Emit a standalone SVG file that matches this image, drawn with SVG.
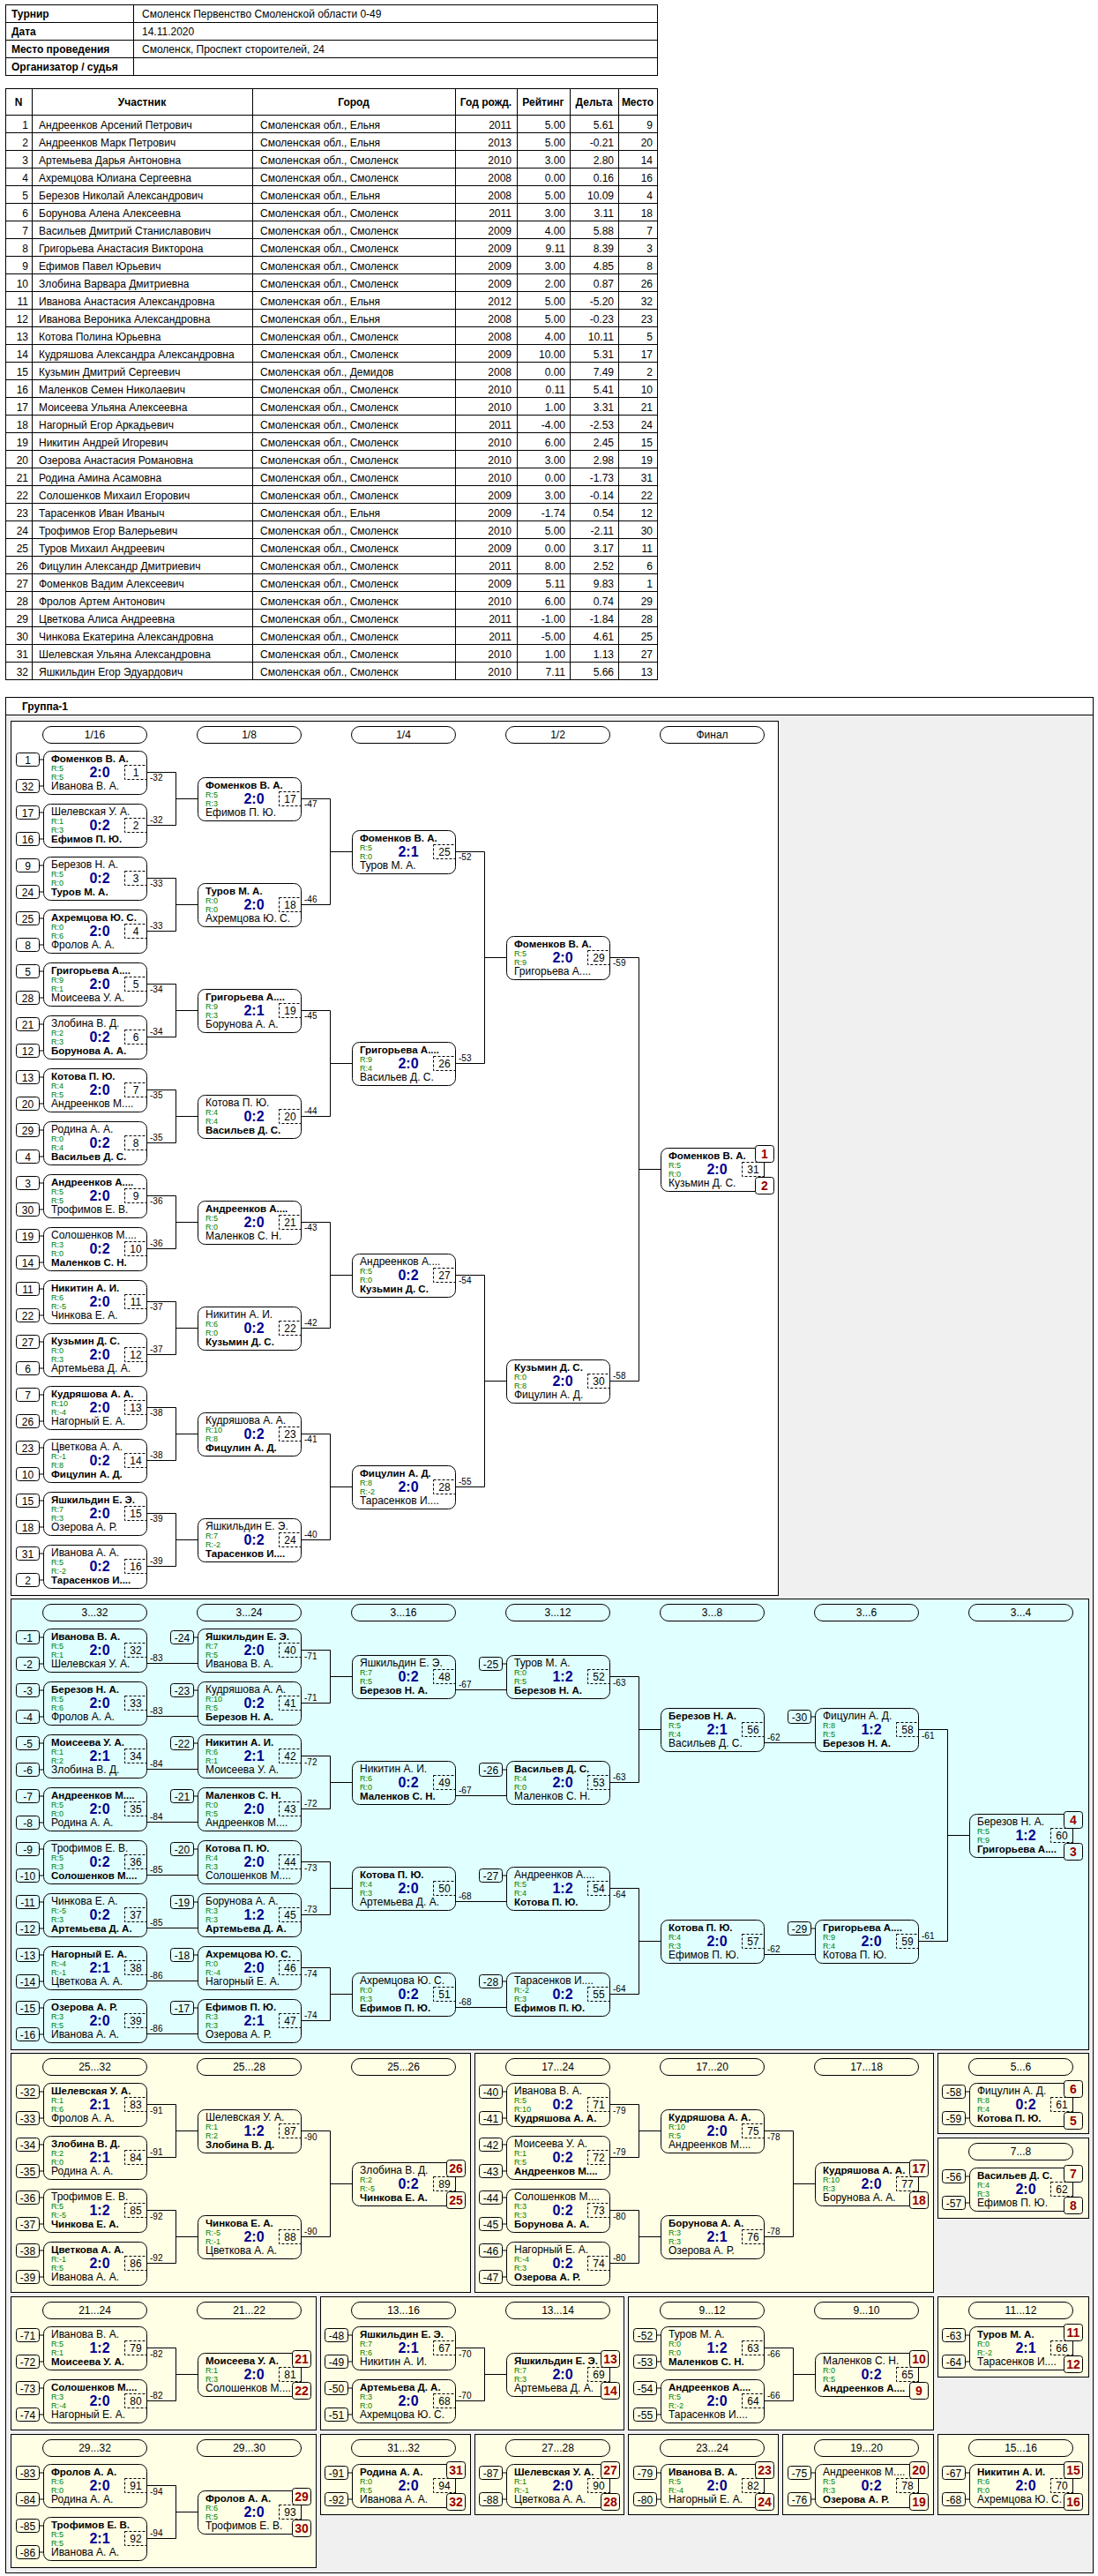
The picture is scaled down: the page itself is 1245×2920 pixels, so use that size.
<svg xmlns="http://www.w3.org/2000/svg" width="1245" height="2920" viewBox="0 0 1245 2920">
<style>
text{font-family:"Liberation Sans",Arial,Helvetica,sans-serif;font-size:12px;fill:#000;stroke:none}
.h{font-weight:bold}
.w{font-weight:bold;font-size:11.5px}
.r{font-size:9px;fill:#008000}
.s{font-size:16px;font-weight:bold;fill:#000090;text-anchor:middle}
.c{text-anchor:middle}
.e{text-anchor:end}
.l{font-size:10px}
.p{font-size:14px;font-weight:bold;fill:#990000;text-anchor:middle}
.ln{fill:none;stroke:#000;stroke-width:1}
.fr{stroke:#000;stroke-width:1}
.pl{fill:none;stroke:#000;stroke-width:1}
</style>
<defs>
<g id="mb"><rect x=".5" y=".5" width="117" height="49" rx="8" fill="none" stroke="#000"/><rect x="92.5" y="16.5" width="25" height="16" fill="none" stroke="#000" stroke-dasharray="3 2"/></g>
<g id="sd"><rect x=".5" y=".5" width="26" height="15" rx="3" fill="none" stroke="#000"/><path d="M26.5 8H31" fill="none" stroke="#000"/></g>
<rect id="pb" x=".5" y=".5" width="21" height="19" rx="3" stroke="#000"/>
</defs>
<rect width="1245" height="2920" fill="#fff"/>

<g id="info">
<rect x="6.5" y="5.5" width="739" height="80" fill="none" stroke="#000"/>
<path d="M6 25.5H746M6 45.5H746M6 65.5H746M151.5 5V86" fill="none" stroke="#000"/>
<text class="h"><tspan x="13" y="20">Турнир</tspan><tspan x="13" y="40">Дата</tspan><tspan x="13" y="60">Место проведения</tspan><tspan x="13" y="80">Организатор / судья</tspan></text>
<text><tspan x="161" y="20">Смоленск Первенство Смоленской области 0-49</tspan><tspan x="161" y="40">14.11.2020</tspan><tspan x="161" y="60">Смоленск, Проспект стороителей, 24</tspan></text>
</g>

<g id="participants">
<rect x="6.5" y="100.5" width="739" height="670" fill="none" stroke="#000"/>
<path d="M6 130.5H746M6 150.5H746M6 170.5H746M6 190.5H746M6 210.5H746M6 230.5H746M6 250.5H746M6 270.5H746M6 290.5H746M6 310.5H746M6 330.5H746M6 350.5H746M6 370.5H746M6 390.5H746M6 410.5H746M6 430.5H746M6 450.5H746M6 470.5H746M6 490.5H746M6 510.5H746M6 530.5H746M6 550.5H746M6 570.5H746M6 590.5H746M6 610.5H746M6 630.5H746M6 650.5H746M6 670.5H746M6 690.5H746M6 710.5H746M6 730.5H746M6 750.5H746M36.5 100V771M286.5 100V771M516.5 100V771M586.5 100V771M646.5 100V771M701.5 100V771" fill="none" stroke="#000"/>
<text class="h c"><tspan x="21" y="120">N</tspan><tspan x="161" y="120">Участник</tspan><tspan x="401" y="120">Город</tspan><tspan x="551" y="120">Год рожд.</tspan><tspan x="616" y="120">Рейтинг</tspan><tspan x="673.5" y="120">Дельта</tspan><tspan x="723" y="120">Место</tspan></text>
<text class="e"><tspan x="32" y="146">1</tspan><tspan x="32" y="166">2</tspan><tspan x="32" y="186">3</tspan><tspan x="32" y="206">4</tspan><tspan x="32" y="226">5</tspan><tspan x="32" y="246">6</tspan><tspan x="32" y="266">7</tspan><tspan x="32" y="286">8</tspan><tspan x="32" y="306">9</tspan><tspan x="32" y="326">10</tspan><tspan x="32" y="346">11</tspan><tspan x="32" y="366">12</tspan><tspan x="32" y="386">13</tspan><tspan x="32" y="406">14</tspan><tspan x="32" y="426">15</tspan><tspan x="32" y="446">16</tspan><tspan x="32" y="466">17</tspan><tspan x="32" y="486">18</tspan><tspan x="32" y="506">19</tspan><tspan x="32" y="526">20</tspan><tspan x="32" y="546">21</tspan><tspan x="32" y="566">22</tspan><tspan x="32" y="586">23</tspan><tspan x="32" y="606">24</tspan><tspan x="32" y="626">25</tspan><tspan x="32" y="646">26</tspan><tspan x="32" y="666">27</tspan><tspan x="32" y="686">28</tspan><tspan x="32" y="706">29</tspan><tspan x="32" y="726">30</tspan><tspan x="32" y="746">31</tspan><tspan x="32" y="766">32</tspan></text>
<text><tspan x="44" y="146">Андреенков Арсений Петрович</tspan><tspan x="44" y="166">Андреенков Марк Петрович</tspan><tspan x="44" y="186">Артемьева Дарья Антоновна</tspan><tspan x="44" y="206">Ахремцова Юлиана Сергеевна</tspan><tspan x="44" y="226">Березов Николай Александрович</tspan><tspan x="44" y="246">Борунова Алена Алексеевна</tspan><tspan x="44" y="266">Васильев Дмитрий Станиславович</tspan><tspan x="44" y="286">Григорьева Анастасия Викторона</tspan><tspan x="44" y="306">Ефимов Павел Юрьевич</tspan><tspan x="44" y="326">Злобина Варвара Дмитриевна</tspan><tspan x="44" y="346">Иванова Анастасия Александровна</tspan><tspan x="44" y="366">Иванова Вероника Александровна</tspan><tspan x="44" y="386">Котова Полина Юрьевна</tspan><tspan x="44" y="406">Кудряшова Александра Александровна</tspan><tspan x="44" y="426">Кузьмин Дмитрий Сергеевич</tspan><tspan x="44" y="446">Маленков Семен Николаевич</tspan><tspan x="44" y="466">Моисеева Ульяна Алексеевна</tspan><tspan x="44" y="486">Нагорный Егор Аркадьевич</tspan><tspan x="44" y="506">Никитин Андрей Игоревич</tspan><tspan x="44" y="526">Озерова Анастасия Романовна</tspan><tspan x="44" y="546">Родина Амина Асамовна</tspan><tspan x="44" y="566">Солошенков Михаил Егорович</tspan><tspan x="44" y="586">Тарасенков Иван Иваныч</tspan><tspan x="44" y="606">Трофимов Егор Валерьевич</tspan><tspan x="44" y="626">Туров Михаил Андреевич</tspan><tspan x="44" y="646">Фицулин Александр Дмитриевич</tspan><tspan x="44" y="666">Фоменков Вадим Алексеевич</tspan><tspan x="44" y="686">Фролов Артем Антонович</tspan><tspan x="44" y="706">Цветкова Алиса Андреевна</tspan><tspan x="44" y="726">Чинкова Екатерина Александровна</tspan><tspan x="44" y="746">Шелевская Ульяна Александровна</tspan><tspan x="44" y="766">Яшкильдин Егор Эдуардович</tspan></text>
<text><tspan x="295" y="146">Смоленская обл., Ельня</tspan><tspan x="295" y="166">Смоленская обл., Ельня</tspan><tspan x="295" y="186">Смоленская обл., Смоленск</tspan><tspan x="295" y="206">Смоленская обл., Смоленск</tspan><tspan x="295" y="226">Смоленская обл., Ельня</tspan><tspan x="295" y="246">Смоленская обл., Смоленск</tspan><tspan x="295" y="266">Смоленская обл., Смоленск</tspan><tspan x="295" y="286">Смоленская обл., Смоленск</tspan><tspan x="295" y="306">Смоленская обл., Смоленск</tspan><tspan x="295" y="326">Смоленская обл., Смоленск</tspan><tspan x="295" y="346">Смоленская обл., Ельня</tspan><tspan x="295" y="366">Смоленская обл., Ельня</tspan><tspan x="295" y="386">Смоленская обл., Смоленск</tspan><tspan x="295" y="406">Смоленская обл., Смоленск</tspan><tspan x="295" y="426">Смоленская обл., Демидов</tspan><tspan x="295" y="446">Смоленская обл., Смоленск</tspan><tspan x="295" y="466">Смоленская обл., Смоленск</tspan><tspan x="295" y="486">Смоленская обл., Смоленск</tspan><tspan x="295" y="506">Смоленская обл., Смоленск</tspan><tspan x="295" y="526">Смоленская обл., Смоленск</tspan><tspan x="295" y="546">Смоленская обл., Смоленск</tspan><tspan x="295" y="566">Смоленская обл., Смоленск</tspan><tspan x="295" y="586">Смоленская обл., Ельня</tspan><tspan x="295" y="606">Смоленская обл., Смоленск</tspan><tspan x="295" y="626">Смоленская обл., Смоленск</tspan><tspan x="295" y="646">Смоленская обл., Смоленск</tspan><tspan x="295" y="666">Смоленская обл., Смоленск</tspan><tspan x="295" y="686">Смоленская обл., Смоленск</tspan><tspan x="295" y="706">Смоленская обл., Смоленск</tspan><tspan x="295" y="726">Смоленская обл., Смоленск</tspan><tspan x="295" y="746">Смоленская обл., Смоленск</tspan><tspan x="295" y="766">Смоленская обл., Смоленск</tspan></text>
<text class="e"><tspan x="580" y="146">2011</tspan><tspan x="580" y="166">2013</tspan><tspan x="580" y="186">2010</tspan><tspan x="580" y="206">2008</tspan><tspan x="580" y="226">2008</tspan><tspan x="580" y="246">2011</tspan><tspan x="580" y="266">2009</tspan><tspan x="580" y="286">2009</tspan><tspan x="580" y="306">2009</tspan><tspan x="580" y="326">2009</tspan><tspan x="580" y="346">2012</tspan><tspan x="580" y="366">2008</tspan><tspan x="580" y="386">2008</tspan><tspan x="580" y="406">2009</tspan><tspan x="580" y="426">2008</tspan><tspan x="580" y="446">2010</tspan><tspan x="580" y="466">2010</tspan><tspan x="580" y="486">2011</tspan><tspan x="580" y="506">2010</tspan><tspan x="580" y="526">2010</tspan><tspan x="580" y="546">2010</tspan><tspan x="580" y="566">2009</tspan><tspan x="580" y="586">2009</tspan><tspan x="580" y="606">2010</tspan><tspan x="580" y="626">2009</tspan><tspan x="580" y="646">2011</tspan><tspan x="580" y="666">2009</tspan><tspan x="580" y="686">2010</tspan><tspan x="580" y="706">2011</tspan><tspan x="580" y="726">2011</tspan><tspan x="580" y="746">2010</tspan><tspan x="580" y="766">2010</tspan></text>
<text class="e"><tspan x="641" y="146">5.00</tspan><tspan x="641" y="166">5.00</tspan><tspan x="641" y="186">3.00</tspan><tspan x="641" y="206">0.00</tspan><tspan x="641" y="226">5.00</tspan><tspan x="641" y="246">3.00</tspan><tspan x="641" y="266">4.00</tspan><tspan x="641" y="286">9.11</tspan><tspan x="641" y="306">3.00</tspan><tspan x="641" y="326">2.00</tspan><tspan x="641" y="346">5.00</tspan><tspan x="641" y="366">5.00</tspan><tspan x="641" y="386">4.00</tspan><tspan x="641" y="406">10.00</tspan><tspan x="641" y="426">0.00</tspan><tspan x="641" y="446">0.11</tspan><tspan x="641" y="466">1.00</tspan><tspan x="641" y="486">-4.00</tspan><tspan x="641" y="506">6.00</tspan><tspan x="641" y="526">3.00</tspan><tspan x="641" y="546">0.00</tspan><tspan x="641" y="566">3.00</tspan><tspan x="641" y="586">-1.74</tspan><tspan x="641" y="606">5.00</tspan><tspan x="641" y="626">0.00</tspan><tspan x="641" y="646">8.00</tspan><tspan x="641" y="666">5.11</tspan><tspan x="641" y="686">6.00</tspan><tspan x="641" y="706">-1.00</tspan><tspan x="641" y="726">-5.00</tspan><tspan x="641" y="746">1.00</tspan><tspan x="641" y="766">7.11</tspan></text>
<text class="e"><tspan x="696" y="146">5.61</tspan><tspan x="696" y="166">-0.21</tspan><tspan x="696" y="186">2.80</tspan><tspan x="696" y="206">0.16</tspan><tspan x="696" y="226">10.09</tspan><tspan x="696" y="246">3.11</tspan><tspan x="696" y="266">5.88</tspan><tspan x="696" y="286">8.39</tspan><tspan x="696" y="306">4.85</tspan><tspan x="696" y="326">0.87</tspan><tspan x="696" y="346">-5.20</tspan><tspan x="696" y="366">-0.23</tspan><tspan x="696" y="386">10.11</tspan><tspan x="696" y="406">5.31</tspan><tspan x="696" y="426">7.49</tspan><tspan x="696" y="446">5.41</tspan><tspan x="696" y="466">3.31</tspan><tspan x="696" y="486">-2.53</tspan><tspan x="696" y="506">2.45</tspan><tspan x="696" y="526">2.98</tspan><tspan x="696" y="546">-1.73</tspan><tspan x="696" y="566">-0.14</tspan><tspan x="696" y="586">0.54</tspan><tspan x="696" y="606">-2.11</tspan><tspan x="696" y="626">3.17</tspan><tspan x="696" y="646">2.52</tspan><tspan x="696" y="666">9.83</tspan><tspan x="696" y="686">0.74</tspan><tspan x="696" y="706">-1.84</tspan><tspan x="696" y="726">4.61</tspan><tspan x="696" y="746">1.13</tspan><tspan x="696" y="766">5.66</tspan></text>
<text class="e"><tspan x="740" y="146">9</tspan><tspan x="740" y="166">20</tspan><tspan x="740" y="186">14</tspan><tspan x="740" y="206">16</tspan><tspan x="740" y="226">4</tspan><tspan x="740" y="246">18</tspan><tspan x="740" y="266">7</tspan><tspan x="740" y="286">3</tspan><tspan x="740" y="306">8</tspan><tspan x="740" y="326">26</tspan><tspan x="740" y="346">32</tspan><tspan x="740" y="366">23</tspan><tspan x="740" y="386">5</tspan><tspan x="740" y="406">17</tspan><tspan x="740" y="426">2</tspan><tspan x="740" y="446">10</tspan><tspan x="740" y="466">21</tspan><tspan x="740" y="486">24</tspan><tspan x="740" y="506">15</tspan><tspan x="740" y="526">19</tspan><tspan x="740" y="546">31</tspan><tspan x="740" y="566">22</tspan><tspan x="740" y="586">12</tspan><tspan x="740" y="606">30</tspan><tspan x="740" y="626">11</tspan><tspan x="740" y="646">6</tspan><tspan x="740" y="666">1</tspan><tspan x="740" y="686">29</tspan><tspan x="740" y="706">28</tspan><tspan x="740" y="726">25</tspan><tspan x="740" y="746">27</tspan><tspan x="740" y="766">13</tspan></text>
</g>

<g id="group1">
<rect x="6.5" y="790.5" width="1233" height="2126" fill="#f0f0f0" stroke="#000"/>
<rect x="7" y="791" width="1232" height="19" fill="#fff"/>
<path d="M6 810.5H1240" fill="none" stroke="#000"/>
<text class="h" x="25" y="805">Группа-1</text>
</g>

<g id="sec-main" fill="#fff">
<rect class="fr" x="12.5" y="817.5" width="870" height="991"/>
<rect class="pl" x="48.5" y="823.5" width="118" height="19" rx="9.5"/><text class="c" x="107.5" y="837">1/16</text>
<rect class="pl" x="223.5" y="823.5" width="118" height="19" rx="9.5"/><text class="c" x="282.5" y="837">1/8</text>
<rect class="pl" x="398.5" y="823.5" width="118" height="19" rx="9.5"/><text class="c" x="457.5" y="837">1/4</text>
<rect class="pl" x="573.5" y="823.5" width="118" height="19" rx="9.5"/><text class="c" x="632.5" y="837">1/2</text>
<rect class="pl" x="748.5" y="823.5" width="118" height="19" rx="9.5"/><text class="c" x="807.5" y="837">Финал</text>

<g id="m1" transform="translate(49 851)"><use href="#mb"/><use href="#sd" x="-31" y="2"/><use href="#sd" x="-31" y="32"/><text class="c" x="-17.5" y="15">1</text><text class="c" x="-17.5" y="45">32</text><text class="w" x="9" y="13">Фоменков В. А.</text><text class="r" x="9" y="23">R:5</text><text class="r" x="9" y="33">R:5</text><text class="s" x="64" y="30">2:0</text><text x="9" y="44">Иванова В. А.</text><text class="c" x="105" y="29">1</text></g>
<g id="m2" transform="translate(49 911)"><use href="#mb"/><use href="#sd" x="-31" y="2"/><use href="#sd" x="-31" y="32"/><text class="c" x="-17.5" y="15">17</text><text class="c" x="-17.5" y="45">16</text><text x="9" y="13">Шелевская У. А.</text><text class="r" x="9" y="23">R:1</text><text class="r" x="9" y="33">R:3</text><text class="s" x="64" y="30">0:2</text><text class="w" x="9" y="44">Ефимов П. Ю.</text><text class="c" x="105" y="29">2</text></g>
<g id="m3" transform="translate(49 971)"><use href="#mb"/><use href="#sd" x="-31" y="2"/><use href="#sd" x="-31" y="32"/><text class="c" x="-17.5" y="15">9</text><text class="c" x="-17.5" y="45">24</text><text x="9" y="13">Березов Н. А.</text><text class="r" x="9" y="23">R:5</text><text class="r" x="9" y="33">R:0</text><text class="s" x="64" y="30">0:2</text><text class="w" x="9" y="44">Туров М. А.</text><text class="c" x="105" y="29">3</text></g>
<g id="m4" transform="translate(49 1031)"><use href="#mb"/><use href="#sd" x="-31" y="2"/><use href="#sd" x="-31" y="32"/><text class="c" x="-17.5" y="15">25</text><text class="c" x="-17.5" y="45">8</text><text class="w" x="9" y="13">Ахремцова Ю. С.</text><text class="r" x="9" y="23">R:0</text><text class="r" x="9" y="33">R:6</text><text class="s" x="64" y="30">2:0</text><text x="9" y="44">Фролов А. А.</text><text class="c" x="105" y="29">4</text></g>
<g id="m5" transform="translate(49 1091)"><use href="#mb"/><use href="#sd" x="-31" y="2"/><use href="#sd" x="-31" y="32"/><text class="c" x="-17.5" y="15">5</text><text class="c" x="-17.5" y="45">28</text><text class="w" x="9" y="13">Григорьева А....</text><text class="r" x="9" y="23">R:9</text><text class="r" x="9" y="33">R:1</text><text class="s" x="64" y="30">2:0</text><text x="9" y="44">Моисеева У. А.</text><text class="c" x="105" y="29">5</text></g>
<g id="m6" transform="translate(49 1151)"><use href="#mb"/><use href="#sd" x="-31" y="2"/><use href="#sd" x="-31" y="32"/><text class="c" x="-17.5" y="15">21</text><text class="c" x="-17.5" y="45">12</text><text x="9" y="13">Злобина В. Д.</text><text class="r" x="9" y="23">R:2</text><text class="r" x="9" y="33">R:3</text><text class="s" x="64" y="30">0:2</text><text class="w" x="9" y="44">Борунова А. А.</text><text class="c" x="105" y="29">6</text></g>
<g id="m7" transform="translate(49 1211)"><use href="#mb"/><use href="#sd" x="-31" y="2"/><use href="#sd" x="-31" y="32"/><text class="c" x="-17.5" y="15">13</text><text class="c" x="-17.5" y="45">20</text><text class="w" x="9" y="13">Котова П. Ю.</text><text class="r" x="9" y="23">R:4</text><text class="r" x="9" y="33">R:5</text><text class="s" x="64" y="30">2:0</text><text x="9" y="44">Андреенков М....</text><text class="c" x="105" y="29">7</text></g>
<g id="m8" transform="translate(49 1271)"><use href="#mb"/><use href="#sd" x="-31" y="2"/><use href="#sd" x="-31" y="32"/><text class="c" x="-17.5" y="15">29</text><text class="c" x="-17.5" y="45">4</text><text x="9" y="13">Родина А. А.</text><text class="r" x="9" y="23">R:0</text><text class="r" x="9" y="33">R:4</text><text class="s" x="64" y="30">0:2</text><text class="w" x="9" y="44">Васильев Д. С.</text><text class="c" x="105" y="29">8</text></g>
<g id="m9" transform="translate(49 1331)"><use href="#mb"/><use href="#sd" x="-31" y="2"/><use href="#sd" x="-31" y="32"/><text class="c" x="-17.5" y="15">3</text><text class="c" x="-17.5" y="45">30</text><text class="w" x="9" y="13">Андреенков А....</text><text class="r" x="9" y="23">R:5</text><text class="r" x="9" y="33">R:5</text><text class="s" x="64" y="30">2:0</text><text x="9" y="44">Трофимов Е. В.</text><text class="c" x="105" y="29">9</text></g>
<g id="m10" transform="translate(49 1391)"><use href="#mb"/><use href="#sd" x="-31" y="2"/><use href="#sd" x="-31" y="32"/><text class="c" x="-17.5" y="15">19</text><text class="c" x="-17.5" y="45">14</text><text x="9" y="13">Солошенков М....</text><text class="r" x="9" y="23">R:3</text><text class="r" x="9" y="33">R:0</text><text class="s" x="64" y="30">0:2</text><text class="w" x="9" y="44">Маленков С. Н.</text><text class="c" x="105" y="29">10</text></g>
<g id="m11" transform="translate(49 1451)"><use href="#mb"/><use href="#sd" x="-31" y="2"/><use href="#sd" x="-31" y="32"/><text class="c" x="-17.5" y="15">11</text><text class="c" x="-17.5" y="45">22</text><text class="w" x="9" y="13">Никитин А. И.</text><text class="r" x="9" y="23">R:6</text><text class="r" x="9" y="33">R:-5</text><text class="s" x="64" y="30">2:0</text><text x="9" y="44">Чинкова Е. А.</text><text class="c" x="105" y="29">11</text></g>
<g id="m12" transform="translate(49 1511)"><use href="#mb"/><use href="#sd" x="-31" y="2"/><use href="#sd" x="-31" y="32"/><text class="c" x="-17.5" y="15">27</text><text class="c" x="-17.5" y="45">6</text><text class="w" x="9" y="13">Кузьмин Д. С.</text><text class="r" x="9" y="23">R:0</text><text class="r" x="9" y="33">R:3</text><text class="s" x="64" y="30">2:0</text><text x="9" y="44">Артемьева Д. А.</text><text class="c" x="105" y="29">12</text></g>
<g id="m13" transform="translate(49 1571)"><use href="#mb"/><use href="#sd" x="-31" y="2"/><use href="#sd" x="-31" y="32"/><text class="c" x="-17.5" y="15">7</text><text class="c" x="-17.5" y="45">26</text><text class="w" x="9" y="13">Кудряшова А. А.</text><text class="r" x="9" y="23">R:10</text><text class="r" x="9" y="33">R:-4</text><text class="s" x="64" y="30">2:0</text><text x="9" y="44">Нагорный Е. А.</text><text class="c" x="105" y="29">13</text></g>
<g id="m14" transform="translate(49 1631)"><use href="#mb"/><use href="#sd" x="-31" y="2"/><use href="#sd" x="-31" y="32"/><text class="c" x="-17.5" y="15">23</text><text class="c" x="-17.5" y="45">10</text><text x="9" y="13">Цветкова А. А.</text><text class="r" x="9" y="23">R:-1</text><text class="r" x="9" y="33">R:8</text><text class="s" x="64" y="30">0:2</text><text class="w" x="9" y="44">Фицулин А. Д.</text><text class="c" x="105" y="29">14</text></g>
<g id="m15" transform="translate(49 1691)"><use href="#mb"/><use href="#sd" x="-31" y="2"/><use href="#sd" x="-31" y="32"/><text class="c" x="-17.5" y="15">15</text><text class="c" x="-17.5" y="45">18</text><text class="w" x="9" y="13">Яшкильдин Е. Э.</text><text class="r" x="9" y="23">R:7</text><text class="r" x="9" y="33">R:3</text><text class="s" x="64" y="30">2:0</text><text x="9" y="44">Озерова А. Р.</text><text class="c" x="105" y="29">15</text></g>
<g id="m16" transform="translate(49 1751)"><use href="#mb"/><use href="#sd" x="-31" y="2"/><use href="#sd" x="-31" y="32"/><text class="c" x="-17.5" y="15">31</text><text class="c" x="-17.5" y="45">2</text><text x="9" y="13">Иванова А. А.</text><text class="r" x="9" y="23">R:5</text><text class="r" x="9" y="33">R:-2</text><text class="s" x="64" y="30">0:2</text><text class="w" x="9" y="44">Тарасенков И....</text><text class="c" x="105" y="29">16</text></g>

<g id="m17" transform="translate(224 881)"><use href="#mb"/><text class="w" x="9" y="13">Фоменков В. А.</text><text class="r" x="9" y="23">R:5</text><text class="r" x="9" y="33">R:3</text><text class="s" x="64" y="30">2:0</text><text x="9" y="44">Ефимов П. Ю.</text><text class="c" x="105" y="29">17</text></g>
<g id="m18" transform="translate(224 1001)"><use href="#mb"/><text class="w" x="9" y="13">Туров М. А.</text><text class="r" x="9" y="23">R:0</text><text class="r" x="9" y="33">R:0</text><text class="s" x="64" y="30">2:0</text><text x="9" y="44">Ахремцова Ю. С.</text><text class="c" x="105" y="29">18</text></g>
<g id="m19" transform="translate(224 1121)"><use href="#mb"/><text class="w" x="9" y="13">Григорьева А....</text><text class="r" x="9" y="23">R:9</text><text class="r" x="9" y="33">R:3</text><text class="s" x="64" y="30">2:1</text><text x="9" y="44">Борунова А. А.</text><text class="c" x="105" y="29">19</text></g>
<g id="m20" transform="translate(224 1241)"><use href="#mb"/><text x="9" y="13">Котова П. Ю.</text><text class="r" x="9" y="23">R:4</text><text class="r" x="9" y="33">R:4</text><text class="s" x="64" y="30">0:2</text><text class="w" x="9" y="44">Васильев Д. С.</text><text class="c" x="105" y="29">20</text></g>
<g id="m21" transform="translate(224 1361)"><use href="#mb"/><text class="w" x="9" y="13">Андреенков А....</text><text class="r" x="9" y="23">R:5</text><text class="r" x="9" y="33">R:0</text><text class="s" x="64" y="30">2:0</text><text x="9" y="44">Маленков С. Н.</text><text class="c" x="105" y="29">21</text></g>
<g id="m22" transform="translate(224 1481)"><use href="#mb"/><text x="9" y="13">Никитин А. И.</text><text class="r" x="9" y="23">R:6</text><text class="r" x="9" y="33">R:0</text><text class="s" x="64" y="30">0:2</text><text class="w" x="9" y="44">Кузьмин Д. С.</text><text class="c" x="105" y="29">22</text></g>
<g id="m23" transform="translate(224 1601)"><use href="#mb"/><text x="9" y="13">Кудряшова А. А.</text><text class="r" x="9" y="23">R:10</text><text class="r" x="9" y="33">R:8</text><text class="s" x="64" y="30">0:2</text><text class="w" x="9" y="44">Фицулин А. Д.</text><text class="c" x="105" y="29">23</text></g>
<g id="m24" transform="translate(224 1721)"><use href="#mb"/><text x="9" y="13">Яшкильдин Е. Э.</text><text class="r" x="9" y="23">R:7</text><text class="r" x="9" y="33">R:-2</text><text class="s" x="64" y="30">0:2</text><text class="w" x="9" y="44">Тарасенков И....</text><text class="c" x="105" y="29">24</text></g>

<g id="m25" transform="translate(399 941)"><use href="#mb"/><text class="w" x="9" y="13">Фоменков В. А.</text><text class="r" x="9" y="23">R:5</text><text class="r" x="9" y="33">R:0</text><text class="s" x="64" y="30">2:1</text><text x="9" y="44">Туров М. А.</text><text class="c" x="105" y="29">25</text></g>
<g id="m26" transform="translate(399 1181)"><use href="#mb"/><text class="w" x="9" y="13">Григорьева А....</text><text class="r" x="9" y="23">R:9</text><text class="r" x="9" y="33">R:4</text><text class="s" x="64" y="30">2:0</text><text x="9" y="44">Васильев Д. С.</text><text class="c" x="105" y="29">26</text></g>
<g id="m27" transform="translate(399 1421)"><use href="#mb"/><text x="9" y="13">Андреенков А....</text><text class="r" x="9" y="23">R:5</text><text class="r" x="9" y="33">R:0</text><text class="s" x="64" y="30">0:2</text><text class="w" x="9" y="44">Кузьмин Д. С.</text><text class="c" x="105" y="29">27</text></g>
<g id="m28" transform="translate(399 1661)"><use href="#mb"/><text class="w" x="9" y="13">Фицулин А. Д.</text><text class="r" x="9" y="23">R:8</text><text class="r" x="9" y="33">R:-2</text><text class="s" x="64" y="30">2:0</text><text x="9" y="44">Тарасенков И....</text><text class="c" x="105" y="29">28</text></g>

<g id="m29" transform="translate(574 1061)"><use href="#mb"/><text class="w" x="9" y="13">Фоменков В. А.</text><text class="r" x="9" y="23">R:5</text><text class="r" x="9" y="33">R:9</text><text class="s" x="64" y="30">2:0</text><text x="9" y="44">Григорьева А....</text><text class="c" x="105" y="29">29</text></g>
<g id="m30" transform="translate(574 1541)"><use href="#mb"/><text class="w" x="9" y="13">Кузьмин Д. С.</text><text class="r" x="9" y="23">R:0</text><text class="r" x="9" y="33">R:8</text><text class="s" x="64" y="30">2:0</text><text x="9" y="44">Фицулин А. Д.</text><text class="c" x="105" y="29">30</text></g>

<g id="m31" transform="translate(749 1301)"><use href="#mb"/><text class="w" x="9" y="13">Фоменков В. А.</text><text class="r" x="9" y="23">R:5</text><text class="r" x="9" y="33">R:0</text><text class="s" x="64" y="30">2:0</text><text x="9" y="44">Кузьмин Д. С.</text><text class="c" x="105" y="29">31</text><use href="#pb" x="107" y="-3"/><use href="#pb" x="107" y="33"/><text class="p" x="118" y="12">1</text><text class="p" x="118" y="48">2</text></g>
</g>

<g id="sec-losers" fill="#e0ffff">
<rect class="fr" x="12.5" y="1812.5" width="1222" height="511"/>
<rect class="pl" x="48.5" y="1818.5" width="118" height="19" rx="9.5"/><text class="c" x="107.5" y="1832">3...32</text>
<rect class="pl" x="223.5" y="1818.5" width="118" height="19" rx="9.5"/><text class="c" x="282.5" y="1832">3...24</text>
<rect class="pl" x="398.5" y="1818.5" width="118" height="19" rx="9.5"/><text class="c" x="457.5" y="1832">3...16</text>
<rect class="pl" x="573.5" y="1818.5" width="118" height="19" rx="9.5"/><text class="c" x="632.5" y="1832">3...12</text>
<rect class="pl" x="748.5" y="1818.5" width="118" height="19" rx="9.5"/><text class="c" x="807.5" y="1832">3...8</text>
<rect class="pl" x="923.5" y="1818.5" width="118" height="19" rx="9.5"/><text class="c" x="982.5" y="1832">3...6</text>
<rect class="pl" x="1098.5" y="1818.5" width="118" height="19" rx="9.5"/><text class="c" x="1157.5" y="1832">3...4</text>

<g id="m32" transform="translate(49 1846)"><use href="#mb"/><use href="#sd" x="-31" y="2"/><use href="#sd" x="-31" y="32"/><text class="c" x="-17.5" y="15">-1</text><text class="c" x="-17.5" y="45">-2</text><text class="w" x="9" y="13">Иванова В. А.</text><text class="r" x="9" y="23">R:5</text><text class="r" x="9" y="33">R:1</text><text class="s" x="64" y="30">2:0</text><text x="9" y="44">Шелевская У. А.</text><text class="c" x="105" y="29">32</text></g>
<g id="m33" transform="translate(49 1906)"><use href="#mb"/><use href="#sd" x="-31" y="2"/><use href="#sd" x="-31" y="32"/><text class="c" x="-17.5" y="15">-3</text><text class="c" x="-17.5" y="45">-4</text><text class="w" x="9" y="13">Березов Н. А.</text><text class="r" x="9" y="23">R:5</text><text class="r" x="9" y="33">R:6</text><text class="s" x="64" y="30">2:0</text><text x="9" y="44">Фролов А. А.</text><text class="c" x="105" y="29">33</text></g>
<g id="m34" transform="translate(49 1966)"><use href="#mb"/><use href="#sd" x="-31" y="2"/><use href="#sd" x="-31" y="32"/><text class="c" x="-17.5" y="15">-5</text><text class="c" x="-17.5" y="45">-6</text><text class="w" x="9" y="13">Моисеева У. А.</text><text class="r" x="9" y="23">R:1</text><text class="r" x="9" y="33">R:2</text><text class="s" x="64" y="30">2:1</text><text x="9" y="44">Злобина В. Д.</text><text class="c" x="105" y="29">34</text></g>
<g id="m35" transform="translate(49 2026)"><use href="#mb"/><use href="#sd" x="-31" y="2"/><use href="#sd" x="-31" y="32"/><text class="c" x="-17.5" y="15">-7</text><text class="c" x="-17.5" y="45">-8</text><text class="w" x="9" y="13">Андреенков М....</text><text class="r" x="9" y="23">R:5</text><text class="r" x="9" y="33">R:0</text><text class="s" x="64" y="30">2:0</text><text x="9" y="44">Родина А. А.</text><text class="c" x="105" y="29">35</text></g>
<g id="m36" transform="translate(49 2086)"><use href="#mb"/><use href="#sd" x="-31" y="2"/><use href="#sd" x="-31" y="32"/><text class="c" x="-17.5" y="15">-9</text><text class="c" x="-17.5" y="45">-10</text><text x="9" y="13">Трофимов Е. В.</text><text class="r" x="9" y="23">R:5</text><text class="r" x="9" y="33">R:3</text><text class="s" x="64" y="30">0:2</text><text class="w" x="9" y="44">Солошенков М....</text><text class="c" x="105" y="29">36</text></g>
<g id="m37" transform="translate(49 2146)"><use href="#mb"/><use href="#sd" x="-31" y="2"/><use href="#sd" x="-31" y="32"/><text class="c" x="-17.5" y="15">-11</text><text class="c" x="-17.5" y="45">-12</text><text x="9" y="13">Чинкова Е. А.</text><text class="r" x="9" y="23">R:-5</text><text class="r" x="9" y="33">R:3</text><text class="s" x="64" y="30">0:2</text><text class="w" x="9" y="44">Артемьева Д. А.</text><text class="c" x="105" y="29">37</text></g>
<g id="m38" transform="translate(49 2206)"><use href="#mb"/><use href="#sd" x="-31" y="2"/><use href="#sd" x="-31" y="32"/><text class="c" x="-17.5" y="15">-13</text><text class="c" x="-17.5" y="45">-14</text><text class="w" x="9" y="13">Нагорный Е. А.</text><text class="r" x="9" y="23">R:-4</text><text class="r" x="9" y="33">R:-1</text><text class="s" x="64" y="30">2:1</text><text x="9" y="44">Цветкова А. А.</text><text class="c" x="105" y="29">38</text></g>
<g id="m39" transform="translate(49 2266)"><use href="#mb"/><use href="#sd" x="-31" y="2"/><use href="#sd" x="-31" y="32"/><text class="c" x="-17.5" y="15">-15</text><text class="c" x="-17.5" y="45">-16</text><text class="w" x="9" y="13">Озерова А. Р.</text><text class="r" x="9" y="23">R:3</text><text class="r" x="9" y="33">R:5</text><text class="s" x="64" y="30">2:0</text><text x="9" y="44">Иванова А. А.</text><text class="c" x="105" y="29">39</text></g>

<g id="m40" transform="translate(224 1846)"><use href="#mb"/><use href="#sd" x="-31" y="2"/><text class="c" x="-17.5" y="15">-24</text><text class="w" x="9" y="13">Яшкильдин Е. Э.</text><text class="r" x="9" y="23">R:7</text><text class="r" x="9" y="33">R:5</text><text class="s" x="64" y="30">2:0</text><text x="9" y="44">Иванова В. А.</text><text class="c" x="105" y="29">40</text></g>
<g id="m41" transform="translate(224 1906)"><use href="#mb"/><use href="#sd" x="-31" y="2"/><text class="c" x="-17.5" y="15">-23</text><text x="9" y="13">Кудряшова А. А.</text><text class="r" x="9" y="23">R:10</text><text class="r" x="9" y="33">R:5</text><text class="s" x="64" y="30">0:2</text><text class="w" x="9" y="44">Березов Н. А.</text><text class="c" x="105" y="29">41</text></g>
<g id="m42" transform="translate(224 1966)"><use href="#mb"/><use href="#sd" x="-31" y="2"/><text class="c" x="-17.5" y="15">-22</text><text class="w" x="9" y="13">Никитин А. И.</text><text class="r" x="9" y="23">R:6</text><text class="r" x="9" y="33">R:1</text><text class="s" x="64" y="30">2:1</text><text x="9" y="44">Моисеева У. А.</text><text class="c" x="105" y="29">42</text></g>
<g id="m43" transform="translate(224 2026)"><use href="#mb"/><use href="#sd" x="-31" y="2"/><text class="c" x="-17.5" y="15">-21</text><text class="w" x="9" y="13">Маленков С. Н.</text><text class="r" x="9" y="23">R:0</text><text class="r" x="9" y="33">R:5</text><text class="s" x="64" y="30">2:0</text><text x="9" y="44">Андреенков М....</text><text class="c" x="105" y="29">43</text></g>
<g id="m44" transform="translate(224 2086)"><use href="#mb"/><use href="#sd" x="-31" y="2"/><text class="c" x="-17.5" y="15">-20</text><text class="w" x="9" y="13">Котова П. Ю.</text><text class="r" x="9" y="23">R:4</text><text class="r" x="9" y="33">R:3</text><text class="s" x="64" y="30">2:0</text><text x="9" y="44">Солошенков М....</text><text class="c" x="105" y="29">44</text></g>
<g id="m45" transform="translate(224 2146)"><use href="#mb"/><use href="#sd" x="-31" y="2"/><text class="c" x="-17.5" y="15">-19</text><text x="9" y="13">Борунова А. А.</text><text class="r" x="9" y="23">R:3</text><text class="r" x="9" y="33">R:3</text><text class="s" x="64" y="30">1:2</text><text class="w" x="9" y="44">Артемьева Д. А.</text><text class="c" x="105" y="29">45</text></g>
<g id="m46" transform="translate(224 2206)"><use href="#mb"/><use href="#sd" x="-31" y="2"/><text class="c" x="-17.5" y="15">-18</text><text class="w" x="9" y="13">Ахремцова Ю. С.</text><text class="r" x="9" y="23">R:0</text><text class="r" x="9" y="33">R:-4</text><text class="s" x="64" y="30">2:0</text><text x="9" y="44">Нагорный Е. А.</text><text class="c" x="105" y="29">46</text></g>
<g id="m47" transform="translate(224 2266)"><use href="#mb"/><use href="#sd" x="-31" y="2"/><text class="c" x="-17.5" y="15">-17</text><text class="w" x="9" y="13">Ефимов П. Ю.</text><text class="r" x="9" y="23">R:3</text><text class="r" x="9" y="33">R:3</text><text class="s" x="64" y="30">2:1</text><text x="9" y="44">Озерова А. Р.</text><text class="c" x="105" y="29">47</text></g>

<g id="m48" transform="translate(399 1876)"><use href="#mb"/><text x="9" y="13">Яшкильдин Е. Э.</text><text class="r" x="9" y="23">R:7</text><text class="r" x="9" y="33">R:5</text><text class="s" x="64" y="30">0:2</text><text class="w" x="9" y="44">Березов Н. А.</text><text class="c" x="105" y="29">48</text></g>
<g id="m49" transform="translate(399 1996)"><use href="#mb"/><text x="9" y="13">Никитин А. И.</text><text class="r" x="9" y="23">R:6</text><text class="r" x="9" y="33">R:0</text><text class="s" x="64" y="30">0:2</text><text class="w" x="9" y="44">Маленков С. Н.</text><text class="c" x="105" y="29">49</text></g>
<g id="m50" transform="translate(399 2116)"><use href="#mb"/><text class="w" x="9" y="13">Котова П. Ю.</text><text class="r" x="9" y="23">R:4</text><text class="r" x="9" y="33">R:3</text><text class="s" x="64" y="30">2:0</text><text x="9" y="44">Артемьева Д. А.</text><text class="c" x="105" y="29">50</text></g>
<g id="m51" transform="translate(399 2236)"><use href="#mb"/><text x="9" y="13">Ахремцова Ю. С.</text><text class="r" x="9" y="23">R:0</text><text class="r" x="9" y="33">R:3</text><text class="s" x="64" y="30">0:2</text><text class="w" x="9" y="44">Ефимов П. Ю.</text><text class="c" x="105" y="29">51</text></g>

<g id="m52" transform="translate(574 1876)"><use href="#mb"/><use href="#sd" x="-31" y="2"/><text class="c" x="-17.5" y="15">-25</text><text x="9" y="13">Туров М. А.</text><text class="r" x="9" y="23">R:0</text><text class="r" x="9" y="33">R:5</text><text class="s" x="64" y="30">1:2</text><text class="w" x="9" y="44">Березов Н. А.</text><text class="c" x="105" y="29">52</text></g>
<g id="m53" transform="translate(574 1996)"><use href="#mb"/><use href="#sd" x="-31" y="2"/><text class="c" x="-17.5" y="15">-26</text><text class="w" x="9" y="13">Васильев Д. С.</text><text class="r" x="9" y="23">R:4</text><text class="r" x="9" y="33">R:0</text><text class="s" x="64" y="30">2:0</text><text x="9" y="44">Маленков С. Н.</text><text class="c" x="105" y="29">53</text></g>
<g id="m54" transform="translate(574 2116)"><use href="#mb"/><use href="#sd" x="-31" y="2"/><text class="c" x="-17.5" y="15">-27</text><text x="9" y="13">Андреенков А....</text><text class="r" x="9" y="23">R:5</text><text class="r" x="9" y="33">R:4</text><text class="s" x="64" y="30">1:2</text><text class="w" x="9" y="44">Котова П. Ю.</text><text class="c" x="105" y="29">54</text></g>
<g id="m55" transform="translate(574 2236)"><use href="#mb"/><use href="#sd" x="-31" y="2"/><text class="c" x="-17.5" y="15">-28</text><text x="9" y="13">Тарасенков И....</text><text class="r" x="9" y="23">R:-2</text><text class="r" x="9" y="33">R:3</text><text class="s" x="64" y="30">0:2</text><text class="w" x="9" y="44">Ефимов П. Ю.</text><text class="c" x="105" y="29">55</text></g>

<g id="m56" transform="translate(749 1936)"><use href="#mb"/><text class="w" x="9" y="13">Березов Н. А.</text><text class="r" x="9" y="23">R:5</text><text class="r" x="9" y="33">R:4</text><text class="s" x="64" y="30">2:1</text><text x="9" y="44">Васильев Д. С.</text><text class="c" x="105" y="29">56</text></g>
<g id="m57" transform="translate(749 2176)"><use href="#mb"/><text class="w" x="9" y="13">Котова П. Ю.</text><text class="r" x="9" y="23">R:4</text><text class="r" x="9" y="33">R:3</text><text class="s" x="64" y="30">2:0</text><text x="9" y="44">Ефимов П. Ю.</text><text class="c" x="105" y="29">57</text></g>

<g id="m58" transform="translate(924 1936)"><use href="#mb"/><use href="#sd" x="-31" y="2"/><text class="c" x="-17.5" y="15">-30</text><text x="9" y="13">Фицулин А. Д.</text><text class="r" x="9" y="23">R:8</text><text class="r" x="9" y="33">R:5</text><text class="s" x="64" y="30">1:2</text><text class="w" x="9" y="44">Березов Н. А.</text><text class="c" x="105" y="29">58</text></g>
<g id="m59" transform="translate(924 2176)"><use href="#mb"/><use href="#sd" x="-31" y="2"/><text class="c" x="-17.5" y="15">-29</text><text class="w" x="9" y="13">Григорьева А....</text><text class="r" x="9" y="23">R:9</text><text class="r" x="9" y="33">R:4</text><text class="s" x="64" y="30">2:0</text><text x="9" y="44">Котова П. Ю.</text><text class="c" x="105" y="29">59</text></g>

<g id="m60" transform="translate(1099 2056)"><use href="#mb"/><text x="9" y="13">Березов Н. А.</text><text class="r" x="9" y="23">R:5</text><text class="r" x="9" y="33">R:9</text><text class="s" x="64" y="30">1:2</text><text class="w" x="9" y="44">Григорьева А....</text><text class="c" x="105" y="29">60</text><use href="#pb" x="107" y="-3"/><use href="#pb" x="107" y="33"/><text class="p" x="118" y="12">4</text><text class="p" x="118" y="48">3</text></g>
</g>

<g id="sec-25-32" fill="#ffffe6">
<rect class="fr" x="12.5" y="2327.5" width="521" height="271"/>
<rect class="pl" x="48.5" y="2333.5" width="118" height="19" rx="9.5"/><text class="c" x="107.5" y="2347">25...32</text>
<rect class="pl" x="223.5" y="2333.5" width="118" height="19" rx="9.5"/><text class="c" x="282.5" y="2347">25...28</text>
<rect class="pl" x="398.5" y="2333.5" width="118" height="19" rx="9.5"/><text class="c" x="457.5" y="2347">25...26</text>
<g id="m83" transform="translate(49 2361)"><use href="#mb"/><use href="#sd" x="-31" y="2"/><use href="#sd" x="-31" y="32"/><text class="c" x="-17.5" y="15">-32</text><text class="c" x="-17.5" y="45">-33</text><text class="w" x="9" y="13">Шелевская У. А.</text><text class="r" x="9" y="23">R:1</text><text class="r" x="9" y="33">R:6</text><text class="s" x="64" y="30">2:1</text><text x="9" y="44">Фролов А. А.</text><text class="c" x="105" y="29">83</text></g>
<g id="m84" transform="translate(49 2421)"><use href="#mb"/><use href="#sd" x="-31" y="2"/><use href="#sd" x="-31" y="32"/><text class="c" x="-17.5" y="15">-34</text><text class="c" x="-17.5" y="45">-35</text><text class="w" x="9" y="13">Злобина В. Д.</text><text class="r" x="9" y="23">R:2</text><text class="r" x="9" y="33">R:0</text><text class="s" x="64" y="30">2:1</text><text x="9" y="44">Родина А. А.</text><text class="c" x="105" y="29">84</text></g>
<g id="m85" transform="translate(49 2481)"><use href="#mb"/><use href="#sd" x="-31" y="2"/><use href="#sd" x="-31" y="32"/><text class="c" x="-17.5" y="15">-36</text><text class="c" x="-17.5" y="45">-37</text><text x="9" y="13">Трофимов Е. В.</text><text class="r" x="9" y="23">R:5</text><text class="r" x="9" y="33">R:-5</text><text class="s" x="64" y="30">1:2</text><text class="w" x="9" y="44">Чинкова Е. А.</text><text class="c" x="105" y="29">85</text></g>
<g id="m86" transform="translate(49 2541)"><use href="#mb"/><use href="#sd" x="-31" y="2"/><use href="#sd" x="-31" y="32"/><text class="c" x="-17.5" y="15">-38</text><text class="c" x="-17.5" y="45">-39</text><text class="w" x="9" y="13">Цветкова А. А.</text><text class="r" x="9" y="23">R:-1</text><text class="r" x="9" y="33">R:5</text><text class="s" x="64" y="30">2:0</text><text x="9" y="44">Иванова А. А.</text><text class="c" x="105" y="29">86</text></g>
<g id="m87" transform="translate(224 2391)"><use href="#mb"/><text x="9" y="13">Шелевская У. А.</text><text class="r" x="9" y="23">R:1</text><text class="r" x="9" y="33">R:2</text><text class="s" x="64" y="30">1:2</text><text class="w" x="9" y="44">Злобина В. Д.</text><text class="c" x="105" y="29">87</text></g>
<g id="m88" transform="translate(224 2511)"><use href="#mb"/><text class="w" x="9" y="13">Чинкова Е. А.</text><text class="r" x="9" y="23">R:-5</text><text class="r" x="9" y="33">R:-1</text><text class="s" x="64" y="30">2:0</text><text x="9" y="44">Цветкова А. А.</text><text class="c" x="105" y="29">88</text></g>
<g id="m89" transform="translate(399 2451)"><use href="#mb"/><text x="9" y="13">Злобина В. Д.</text><text class="r" x="9" y="23">R:2</text><text class="r" x="9" y="33">R:-5</text><text class="s" x="64" y="30">0:2</text><text class="w" x="9" y="44">Чинкова Е. А.</text><text class="c" x="105" y="29">89</text><use href="#pb" x="107" y="-3"/><use href="#pb" x="107" y="33"/><text class="p" x="118" y="12">26</text><text class="p" x="118" y="48">25</text></g>
</g>

<g id="sec-17-24" fill="#ffffe6">
<rect class="fr" x="538.5" y="2327.5" width="520" height="271"/>
<rect class="pl" x="573.5" y="2333.5" width="118" height="19" rx="9.5"/><text class="c" x="632.5" y="2347">17...24</text>
<rect class="pl" x="748.5" y="2333.5" width="118" height="19" rx="9.5"/><text class="c" x="807.5" y="2347">17...20</text>
<rect class="pl" x="923.5" y="2333.5" width="118" height="19" rx="9.5"/><text class="c" x="982.5" y="2347">17...18</text>
<g id="m71" transform="translate(574 2361)"><use href="#mb"/><use href="#sd" x="-31" y="2"/><use href="#sd" x="-31" y="32"/><text class="c" x="-17.5" y="15">-40</text><text class="c" x="-17.5" y="45">-41</text><text x="9" y="13">Иванова В. А.</text><text class="r" x="9" y="23">R:5</text><text class="r" x="9" y="33">R:10</text><text class="s" x="64" y="30">0:2</text><text class="w" x="9" y="44">Кудряшова А. А.</text><text class="c" x="105" y="29">71</text></g>
<g id="m72" transform="translate(574 2421)"><use href="#mb"/><use href="#sd" x="-31" y="2"/><use href="#sd" x="-31" y="32"/><text class="c" x="-17.5" y="15">-42</text><text class="c" x="-17.5" y="45">-43</text><text x="9" y="13">Моисеева У. А.</text><text class="r" x="9" y="23">R:1</text><text class="r" x="9" y="33">R:5</text><text class="s" x="64" y="30">0:2</text><text class="w" x="9" y="44">Андреенков М....</text><text class="c" x="105" y="29">72</text></g>
<g id="m73" transform="translate(574 2481)"><use href="#mb"/><use href="#sd" x="-31" y="2"/><use href="#sd" x="-31" y="32"/><text class="c" x="-17.5" y="15">-44</text><text class="c" x="-17.5" y="45">-45</text><text x="9" y="13">Солошенков М....</text><text class="r" x="9" y="23">R:3</text><text class="r" x="9" y="33">R:3</text><text class="s" x="64" y="30">0:2</text><text class="w" x="9" y="44">Борунова А. А.</text><text class="c" x="105" y="29">73</text></g>
<g id="m74" transform="translate(574 2541)"><use href="#mb"/><use href="#sd" x="-31" y="2"/><use href="#sd" x="-31" y="32"/><text class="c" x="-17.5" y="15">-46</text><text class="c" x="-17.5" y="45">-47</text><text x="9" y="13">Нагорный Е. А.</text><text class="r" x="9" y="23">R:-4</text><text class="r" x="9" y="33">R:3</text><text class="s" x="64" y="30">0:2</text><text class="w" x="9" y="44">Озерова А. Р.</text><text class="c" x="105" y="29">74</text></g>
<g id="m75" transform="translate(749 2391)"><use href="#mb"/><text class="w" x="9" y="13">Кудряшова А. А.</text><text class="r" x="9" y="23">R:10</text><text class="r" x="9" y="33">R:5</text><text class="s" x="64" y="30">2:0</text><text x="9" y="44">Андреенков М....</text><text class="c" x="105" y="29">75</text></g>
<g id="m76" transform="translate(749 2511)"><use href="#mb"/><text class="w" x="9" y="13">Борунова А. А.</text><text class="r" x="9" y="23">R:3</text><text class="r" x="9" y="33">R:3</text><text class="s" x="64" y="30">2:1</text><text x="9" y="44">Озерова А. Р.</text><text class="c" x="105" y="29">76</text></g>
<g id="m77" transform="translate(924 2451)"><use href="#mb"/><text class="w" x="9" y="13">Кудряшова А. А.</text><text class="r" x="9" y="23">R:10</text><text class="r" x="9" y="33">R:3</text><text class="s" x="64" y="30">2:0</text><text x="9" y="44">Борунова А. А.</text><text class="c" x="105" y="29">77</text><use href="#pb" x="107" y="-3"/><use href="#pb" x="107" y="33"/><text class="p" x="118" y="12">17</text><text class="p" x="118" y="48">18</text></g>
</g>

<g id="sec-5-6" fill="#ffffe6">
<rect class="fr" x="1063.5" y="2327.5" width="171" height="91"/>
<rect class="pl" x="1098.5" y="2333.5" width="118" height="19" rx="9.5"/><text class="c" x="1157.5" y="2347">5...6</text>
<g id="m61" transform="translate(1099 2361)"><use href="#mb"/><use href="#sd" x="-31" y="2"/><use href="#sd" x="-31" y="32"/><text class="c" x="-17.5" y="15">-58</text><text class="c" x="-17.5" y="45">-59</text><text x="9" y="13">Фицулин А. Д.</text><text class="r" x="9" y="23">R:8</text><text class="r" x="9" y="33">R:4</text><text class="s" x="64" y="30">0:2</text><text class="w" x="9" y="44">Котова П. Ю.</text><text class="c" x="105" y="29">61</text><use href="#pb" x="107" y="-3"/><use href="#pb" x="107" y="33"/><text class="p" x="118" y="12">6</text><text class="p" x="118" y="48">5</text></g>
</g>
<g id="sec-7-8" fill="#ffffe6">
<rect class="fr" x="1063.5" y="2423.5" width="171" height="91"/>
<rect class="pl" x="1098.5" y="2429.5" width="118" height="19" rx="9.5"/><text class="c" x="1157.5" y="2443">7...8</text>
<g id="m62" transform="translate(1099 2457)"><use href="#mb"/><use href="#sd" x="-31" y="2"/><use href="#sd" x="-31" y="32"/><text class="c" x="-17.5" y="15">-56</text><text class="c" x="-17.5" y="45">-57</text><text class="w" x="9" y="13">Васильев Д. С.</text><text class="r" x="9" y="23">R:4</text><text class="r" x="9" y="33">R:3</text><text class="s" x="64" y="30">2:0</text><text x="9" y="44">Ефимов П. Ю.</text><text class="c" x="105" y="29">62</text><use href="#pb" x="107" y="-3"/><use href="#pb" x="107" y="33"/><text class="p" x="118" y="12">7</text><text class="p" x="118" y="48">8</text></g>
</g>

<g id="sec-21-24" fill="#ffffe6">
<rect class="fr" x="12.5" y="2603.5" width="346" height="151"/>
<rect class="pl" x="48.5" y="2609.5" width="118" height="19" rx="9.5"/><text class="c" x="107.5" y="2623">21...24</text>
<rect class="pl" x="223.5" y="2609.5" width="118" height="19" rx="9.5"/><text class="c" x="282.5" y="2623">21...22</text>
<g id="m79" transform="translate(49 2637)"><use href="#mb"/><use href="#sd" x="-31" y="2"/><use href="#sd" x="-31" y="32"/><text class="c" x="-17.5" y="15">-71</text><text class="c" x="-17.5" y="45">-72</text><text x="9" y="13">Иванова В. А.</text><text class="r" x="9" y="23">R:5</text><text class="r" x="9" y="33">R:1</text><text class="s" x="64" y="30">1:2</text><text class="w" x="9" y="44">Моисеева У. А.</text><text class="c" x="105" y="29">79</text></g>
<g id="m80" transform="translate(49 2697)"><use href="#mb"/><use href="#sd" x="-31" y="2"/><use href="#sd" x="-31" y="32"/><text class="c" x="-17.5" y="15">-73</text><text class="c" x="-17.5" y="45">-74</text><text class="w" x="9" y="13">Солошенков М....</text><text class="r" x="9" y="23">R:3</text><text class="r" x="9" y="33">R:-4</text><text class="s" x="64" y="30">2:0</text><text x="9" y="44">Нагорный Е. А.</text><text class="c" x="105" y="29">80</text></g>
<g id="m81" transform="translate(224 2667)"><use href="#mb"/><text class="w" x="9" y="13">Моисеева У. А.</text><text class="r" x="9" y="23">R:1</text><text class="r" x="9" y="33">R:3</text><text class="s" x="64" y="30">2:0</text><text x="9" y="44">Солошенков М....</text><text class="c" x="105" y="29">81</text><use href="#pb" x="107" y="-3"/><use href="#pb" x="107" y="33"/><text class="p" x="118" y="12">21</text><text class="p" x="118" y="48">22</text></g>
</g>

<g id="sec-13-16" fill="#ffffe6">
<rect class="fr" x="363.5" y="2603.5" width="344" height="151"/>
<rect class="pl" x="398.5" y="2609.5" width="118" height="19" rx="9.5"/><text class="c" x="457.5" y="2623">13...16</text>
<rect class="pl" x="573.5" y="2609.5" width="118" height="19" rx="9.5"/><text class="c" x="632.5" y="2623">13...14</text>
<g id="m67" transform="translate(399 2637)"><use href="#mb"/><use href="#sd" x="-31" y="2"/><use href="#sd" x="-31" y="32"/><text class="c" x="-17.5" y="15">-48</text><text class="c" x="-17.5" y="45">-49</text><text class="w" x="9" y="13">Яшкильдин Е. Э.</text><text class="r" x="9" y="23">R:7</text><text class="r" x="9" y="33">R:6</text><text class="s" x="64" y="30">2:1</text><text x="9" y="44">Никитин А. И.</text><text class="c" x="105" y="29">67</text></g>
<g id="m68" transform="translate(399 2697)"><use href="#mb"/><use href="#sd" x="-31" y="2"/><use href="#sd" x="-31" y="32"/><text class="c" x="-17.5" y="15">-50</text><text class="c" x="-17.5" y="45">-51</text><text class="w" x="9" y="13">Артемьева Д. А.</text><text class="r" x="9" y="23">R:3</text><text class="r" x="9" y="33">R:0</text><text class="s" x="64" y="30">2:0</text><text x="9" y="44">Ахремцова Ю. С.</text><text class="c" x="105" y="29">68</text></g>
<g id="m69" transform="translate(574 2667)"><use href="#mb"/><text class="w" x="9" y="13">Яшкильдин Е. Э.</text><text class="r" x="9" y="23">R:7</text><text class="r" x="9" y="33">R:3</text><text class="s" x="64" y="30">2:0</text><text x="9" y="44">Артемьева Д. А.</text><text class="c" x="105" y="29">69</text><use href="#pb" x="107" y="-3"/><use href="#pb" x="107" y="33"/><text class="p" x="118" y="12">13</text><text class="p" x="118" y="48">14</text></g>
</g>

<g id="sec-9-12" fill="#ffffe6">
<rect class="fr" x="712.5" y="2603.5" width="346" height="151"/>
<rect class="pl" x="748.5" y="2609.5" width="118" height="19" rx="9.5"/><text class="c" x="807.5" y="2623">9...12</text>
<rect class="pl" x="923.5" y="2609.5" width="118" height="19" rx="9.5"/><text class="c" x="982.5" y="2623">9...10</text>
<g id="m63" transform="translate(749 2637)"><use href="#mb"/><use href="#sd" x="-31" y="2"/><use href="#sd" x="-31" y="32"/><text class="c" x="-17.5" y="15">-52</text><text class="c" x="-17.5" y="45">-53</text><text x="9" y="13">Туров М. А.</text><text class="r" x="9" y="23">R:0</text><text class="r" x="9" y="33">R:0</text><text class="s" x="64" y="30">1:2</text><text class="w" x="9" y="44">Маленков С. Н.</text><text class="c" x="105" y="29">63</text></g>
<g id="m64" transform="translate(749 2697)"><use href="#mb"/><use href="#sd" x="-31" y="2"/><use href="#sd" x="-31" y="32"/><text class="c" x="-17.5" y="15">-54</text><text class="c" x="-17.5" y="45">-55</text><text class="w" x="9" y="13">Андреенков А....</text><text class="r" x="9" y="23">R:5</text><text class="r" x="9" y="33">R:-2</text><text class="s" x="64" y="30">2:0</text><text x="9" y="44">Тарасенков И....</text><text class="c" x="105" y="29">64</text></g>
<g id="m65" transform="translate(924 2667)"><use href="#mb"/><text x="9" y="13">Маленков С. Н.</text><text class="r" x="9" y="23">R:0</text><text class="r" x="9" y="33">R:5</text><text class="s" x="64" y="30">0:2</text><text class="w" x="9" y="44">Андреенков А....</text><text class="c" x="105" y="29">65</text><use href="#pb" x="107" y="-3"/><use href="#pb" x="107" y="33"/><text class="p" x="118" y="12">10</text><text class="p" x="118" y="48">9</text></g>
</g>

<g id="sec-11-12" fill="#ffffe6">
<rect class="fr" x="1063.5" y="2603.5" width="171" height="91"/>
<rect class="pl" x="1098.5" y="2609.5" width="118" height="19" rx="9.5"/><text class="c" x="1157.5" y="2623">11...12</text>
<g id="m66" transform="translate(1099 2637)"><use href="#mb"/><use href="#sd" x="-31" y="2"/><use href="#sd" x="-31" y="32"/><text class="c" x="-17.5" y="15">-63</text><text class="c" x="-17.5" y="45">-64</text><text class="w" x="9" y="13">Туров М. А.</text><text class="r" x="9" y="23">R:0</text><text class="r" x="9" y="33">R:-2</text><text class="s" x="64" y="30">2:1</text><text x="9" y="44">Тарасенков И....</text><text class="c" x="105" y="29">66</text><use href="#pb" x="107" y="-3"/><use href="#pb" x="107" y="33"/><text class="p" x="118" y="12">11</text><text class="p" x="118" y="48">12</text></g>
</g>

<g id="sec-29-32" fill="#ffffe6">
<rect class="fr" x="12.5" y="2759.5" width="346" height="151"/>
<rect class="pl" x="48.5" y="2765.5" width="118" height="19" rx="9.5"/><text class="c" x="107.5" y="2779">29...32</text>
<rect class="pl" x="223.5" y="2765.5" width="118" height="19" rx="9.5"/><text class="c" x="282.5" y="2779">29...30</text>
<g id="m91" transform="translate(49 2793)"><use href="#mb"/><use href="#sd" x="-31" y="2"/><use href="#sd" x="-31" y="32"/><text class="c" x="-17.5" y="15">-83</text><text class="c" x="-17.5" y="45">-84</text><text class="w" x="9" y="13">Фролов А. А.</text><text class="r" x="9" y="23">R:6</text><text class="r" x="9" y="33">R:0</text><text class="s" x="64" y="30">2:0</text><text x="9" y="44">Родина А. А.</text><text class="c" x="105" y="29">91</text></g>
<g id="m92" transform="translate(49 2853)"><use href="#mb"/><use href="#sd" x="-31" y="2"/><use href="#sd" x="-31" y="32"/><text class="c" x="-17.5" y="15">-85</text><text class="c" x="-17.5" y="45">-86</text><text class="w" x="9" y="13">Трофимов Е. В.</text><text class="r" x="9" y="23">R:5</text><text class="r" x="9" y="33">R:5</text><text class="s" x="64" y="30">2:1</text><text x="9" y="44">Иванова А. А.</text><text class="c" x="105" y="29">92</text></g>
<g id="m93" transform="translate(224 2823)"><use href="#mb"/><text class="w" x="9" y="13">Фролов А. А.</text><text class="r" x="9" y="23">R:6</text><text class="r" x="9" y="33">R:5</text><text class="s" x="64" y="30">2:0</text><text x="9" y="44">Трофимов Е. В.</text><text class="c" x="105" y="29">93</text><use href="#pb" x="107" y="-3"/><use href="#pb" x="107" y="33"/><text class="p" x="118" y="12">29</text><text class="p" x="118" y="48">30</text></g>
</g>

<g id="sec-31-32" fill="#ffffe6">
<rect class="fr" x="363.5" y="2759.5" width="170" height="91"/>
<rect class="pl" x="398.5" y="2765.5" width="118" height="19" rx="9.5"/><text class="c" x="457.5" y="2779">31...32</text>
<g id="m94" transform="translate(399 2793)"><use href="#mb"/><use href="#sd" x="-31" y="2"/><use href="#sd" x="-31" y="32"/><text class="c" x="-17.5" y="15">-91</text><text class="c" x="-17.5" y="45">-92</text><text class="w" x="9" y="13">Родина А. А.</text><text class="r" x="9" y="23">R:0</text><text class="r" x="9" y="33">R:5</text><text class="s" x="64" y="30">2:0</text><text x="9" y="44">Иванова А. А.</text><text class="c" x="105" y="29">94</text><use href="#pb" x="107" y="-3"/><use href="#pb" x="107" y="33"/><text class="p" x="118" y="12">31</text><text class="p" x="118" y="48">32</text></g>
</g>

<g id="sec-27-28" fill="#ffffe6">
<rect class="fr" x="538.5" y="2759.5" width="169" height="91"/>
<rect class="pl" x="573.5" y="2765.5" width="118" height="19" rx="9.5"/><text class="c" x="632.5" y="2779">27...28</text>
<g id="m90" transform="translate(574 2793)"><use href="#mb"/><use href="#sd" x="-31" y="2"/><use href="#sd" x="-31" y="32"/><text class="c" x="-17.5" y="15">-87</text><text class="c" x="-17.5" y="45">-88</text><text class="w" x="9" y="13">Шелевская У. А.</text><text class="r" x="9" y="23">R:1</text><text class="r" x="9" y="33">R:-1</text><text class="s" x="64" y="30">2:0</text><text x="9" y="44">Цветкова А. А.</text><text class="c" x="105" y="29">90</text><use href="#pb" x="107" y="-3"/><use href="#pb" x="107" y="33"/><text class="p" x="118" y="12">27</text><text class="p" x="118" y="48">28</text></g>
</g>

<g id="sec-23-24" fill="#ffffe6">
<rect class="fr" x="712.5" y="2759.5" width="170" height="91"/>
<rect class="pl" x="748.5" y="2765.5" width="118" height="19" rx="9.5"/><text class="c" x="807.5" y="2779">23...24</text>
<g id="m82" transform="translate(749 2793)"><use href="#mb"/><use href="#sd" x="-31" y="2"/><use href="#sd" x="-31" y="32"/><text class="c" x="-17.5" y="15">-79</text><text class="c" x="-17.5" y="45">-80</text><text class="w" x="9" y="13">Иванова В. А.</text><text class="r" x="9" y="23">R:5</text><text class="r" x="9" y="33">R:-4</text><text class="s" x="64" y="30">2:0</text><text x="9" y="44">Нагорный Е. А.</text><text class="c" x="105" y="29">82</text><use href="#pb" x="107" y="-3"/><use href="#pb" x="107" y="33"/><text class="p" x="118" y="12">23</text><text class="p" x="118" y="48">24</text></g>
</g>

<g id="sec-19-20" fill="#ffffe6">
<rect class="fr" x="887.5" y="2759.5" width="171" height="91"/>
<rect class="pl" x="923.5" y="2765.5" width="118" height="19" rx="9.5"/><text class="c" x="982.5" y="2779">19...20</text>
<g id="m78" transform="translate(924 2793)"><use href="#mb"/><use href="#sd" x="-31" y="2"/><use href="#sd" x="-31" y="32"/><text class="c" x="-17.5" y="15">-75</text><text class="c" x="-17.5" y="45">-76</text><text x="9" y="13">Андреенков М....</text><text class="r" x="9" y="23">R:5</text><text class="r" x="9" y="33">R:3</text><text class="s" x="64" y="30">0:2</text><text class="w" x="9" y="44">Озерова А. Р.</text><text class="c" x="105" y="29">78</text><use href="#pb" x="107" y="-3"/><use href="#pb" x="107" y="33"/><text class="p" x="118" y="12">20</text><text class="p" x="118" y="48">19</text></g>
</g>

<g id="sec-15-16" fill="#ffffe6">
<rect class="fr" x="1063.5" y="2759.5" width="171" height="91"/>
<rect class="pl" x="1098.5" y="2765.5" width="118" height="19" rx="9.5"/><text class="c" x="1157.5" y="2779">15...16</text>
<g id="m70" transform="translate(1099 2793)"><use href="#mb"/><use href="#sd" x="-31" y="2"/><use href="#sd" x="-31" y="32"/><text class="c" x="-17.5" y="15">-67</text><text class="c" x="-17.5" y="45">-68</text><text class="w" x="9" y="13">Никитин А. И.</text><text class="r" x="9" y="23">R:6</text><text class="r" x="9" y="33">R:0</text><text class="s" x="64" y="30">2:0</text><text x="9" y="44">Ахремцова Ю. С.</text><text class="c" x="105" y="29">70</text><use href="#pb" x="107" y="-3"/><use href="#pb" x="107" y="33"/><text class="p" x="118" y="12">15</text><text class="p" x="118" y="48">16</text></g>
</g>

<g id="connectors" class="ln">
<path d="M166.5 875.5H199.5V935.5H166.5M199.5 905.5H224.5M166.5 995.5H199.5V1055.5H166.5M199.5 1025.5H224.5M166.5 1115.5H199.5V1175.5H166.5M199.5 1145.5H224.5M166.5 1235.5H199.5V1295.5H166.5M199.5 1265.5H224.5M166.5 1355.5H199.5V1415.5H166.5M199.5 1385.5H224.5M166.5 1475.5H199.5V1535.5H166.5M199.5 1505.5H224.5M166.5 1595.5H199.5V1655.5H166.5M199.5 1625.5H224.5M166.5 1715.5H199.5V1775.5H166.5M199.5 1745.5H224.5"/>
<path d="M341.5 905.5H374.5V1025.5H341.5M374.5 965.5H399.5M341.5 1145.5H374.5V1265.5H341.5M374.5 1205.5H399.5M341.5 1385.5H374.5V1505.5H341.5M374.5 1445.5H399.5M341.5 1625.5H374.5V1745.5H341.5M374.5 1685.5H399.5"/>
<path d="M516.5 965.5H549.5V1205.5H516.5M549.5 1085.5H574.5M516.5 1445.5H549.5V1685.5H516.5M549.5 1565.5H574.5"/>
<path d="M691.5 1085.5H724.5V1565.5H691.5M724.5 1325.5H749.5"/>
<path d="M166.5 1885.5H224.5M166.5 1945.5H224.5M166.5 2005.5H224.5M166.5 2065.5H224.5M166.5 2125.5H224.5M166.5 2185.5H224.5M166.5 2245.5H224.5M166.5 2305.5H224.5"/>
<path d="M341.5 1870.5H374.5V1930.5H341.5M374.5 1900.5H399.5M341.5 1990.5H374.5V2050.5H341.5M374.5 2020.5H399.5M341.5 2110.5H374.5V2170.5H341.5M374.5 2140.5H399.5M341.5 2230.5H374.5V2290.5H341.5M374.5 2260.5H399.5"/>
<path d="M516.5 1915.5H574.5M516.5 2035.5H574.5M516.5 2155.5H574.5M516.5 2275.5H574.5"/>
<path d="M691.5 1900.5H724.5V2020.5H691.5M724.5 1960.5H749.5M691.5 2140.5H724.5V2260.5H691.5M724.5 2200.5H749.5"/>
<path d="M866.5 1975.5H924.5M866.5 2215.5H924.5"/>
<path d="M1041.5 1960.5H1074.5V2200.5H1041.5M1074.5 2080.5H1099.5"/>
<path d="M166.5 2385.5H199.5V2445.5H166.5M199.5 2415.5H224.5M166.5 2505.5H199.5V2565.5H166.5M199.5 2535.5H224.5M341.5 2415.5H374.5V2535.5H341.5M374.5 2475.5H399.5"/>
<path d="M691.5 2385.5H724.5V2445.5H691.5M724.5 2415.5H749.5M691.5 2505.5H724.5V2565.5H691.5M724.5 2535.5H749.5M866.5 2415.5H899.5V2535.5H866.5M899.5 2475.5H924.5"/>
<path d="M166.5 2661.5H199.5V2721.5H166.5M199.5 2691.5H224.5M516.5 2661.5H549.5V2721.5H516.5M549.5 2691.5H574.5M866.5 2661.5H899.5V2721.5H866.5M899.5 2691.5H924.5"/>
<path d="M166.5 2817.5H199.5V2877.5H166.5M199.5 2847.5H224.5"/>
<text class="l"><tspan x="170" y="885">-32</tspan><tspan x="170" y="932.5">-32</tspan><tspan x="170" y="1005">-33</tspan><tspan x="170" y="1052.5">-33</tspan><tspan x="170" y="1125">-34</tspan><tspan x="170" y="1172.5">-34</tspan><tspan x="170" y="1245">-35</tspan><tspan x="170" y="1292.5">-35</tspan><tspan x="170" y="1365">-36</tspan><tspan x="170" y="1412.5">-36</tspan><tspan x="170" y="1485">-37</tspan><tspan x="170" y="1532.5">-37</tspan><tspan x="170" y="1605">-38</tspan><tspan x="170" y="1652.5">-38</tspan><tspan x="170" y="1725">-39</tspan><tspan x="170" y="1772.5">-39</tspan></text>
<text class="l"><tspan x="345" y="915">-47</tspan><tspan x="345" y="1022.5">-46</tspan><tspan x="345" y="1155">-45</tspan><tspan x="345" y="1262.5">-44</tspan><tspan x="345" y="1395">-43</tspan><tspan x="345" y="1502.5">-42</tspan><tspan x="345" y="1635">-41</tspan><tspan x="345" y="1742.5">-40</tspan></text>
<text class="l"><tspan x="520" y="975">-52</tspan><tspan x="520" y="1202.5">-53</tspan><tspan x="520" y="1455">-54</tspan><tspan x="520" y="1682.5">-55</tspan><tspan x="695" y="1095">-59</tspan><tspan x="695" y="1562.5">-58</tspan></text>
<text class="l"><tspan x="170" y="1882.5">-83</tspan><tspan x="170" y="1942.5">-83</tspan><tspan x="170" y="2002.5">-84</tspan><tspan x="170" y="2062.5">-84</tspan><tspan x="170" y="2122.5">-85</tspan><tspan x="170" y="2182.5">-85</tspan><tspan x="170" y="2242.5">-86</tspan><tspan x="170" y="2302.5">-86</tspan></text>
<text class="l"><tspan x="345" y="1880.5">-71</tspan><tspan x="345" y="1927.5">-71</tspan><tspan x="345" y="2000.5">-72</tspan><tspan x="345" y="2047.5">-72</tspan><tspan x="345" y="2120.5">-73</tspan><tspan x="345" y="2167.5">-73</tspan><tspan x="345" y="2240.5">-74</tspan><tspan x="345" y="2287.5">-74</tspan></text>
<text class="l"><tspan x="520" y="1912.5">-67</tspan><tspan x="520" y="2032.5">-67</tspan><tspan x="520" y="2152.5">-68</tspan><tspan x="520" y="2272.5">-68</tspan><tspan x="695" y="1910.5">-63</tspan><tspan x="695" y="2017.5">-63</tspan><tspan x="695" y="2150.5">-64</tspan><tspan x="695" y="2257.5">-64</tspan><tspan x="870" y="1972.5">-62</tspan><tspan x="870" y="2212.5">-62</tspan><tspan x="1045" y="1970.5">-61</tspan><tspan x="1045" y="2197.5">-61</tspan></text>
<text class="l"><tspan x="170" y="2395.5">-91</tspan><tspan x="170" y="2442.5">-91</tspan><tspan x="170" y="2515.5">-92</tspan><tspan x="170" y="2562.5">-92</tspan><tspan x="345" y="2425.5">-90</tspan><tspan x="345" y="2532.5">-90</tspan><tspan x="695" y="2395.5">-79</tspan><tspan x="695" y="2442.5">-79</tspan><tspan x="695" y="2515.5">-80</tspan><tspan x="695" y="2562.5">-80</tspan><tspan x="870" y="2425.5">-78</tspan><tspan x="870" y="2532.5">-78</tspan></text>
<text class="l"><tspan x="170" y="2671.5">-82</tspan><tspan x="170" y="2718.5">-82</tspan><tspan x="520" y="2671.5">-70</tspan><tspan x="520" y="2718.5">-70</tspan><tspan x="870" y="2671.5">-66</tspan><tspan x="870" y="2718.5">-66</tspan><tspan x="170" y="2827.5">-94</tspan><tspan x="170" y="2874.5">-94</tspan></text>
</g>
</svg>
